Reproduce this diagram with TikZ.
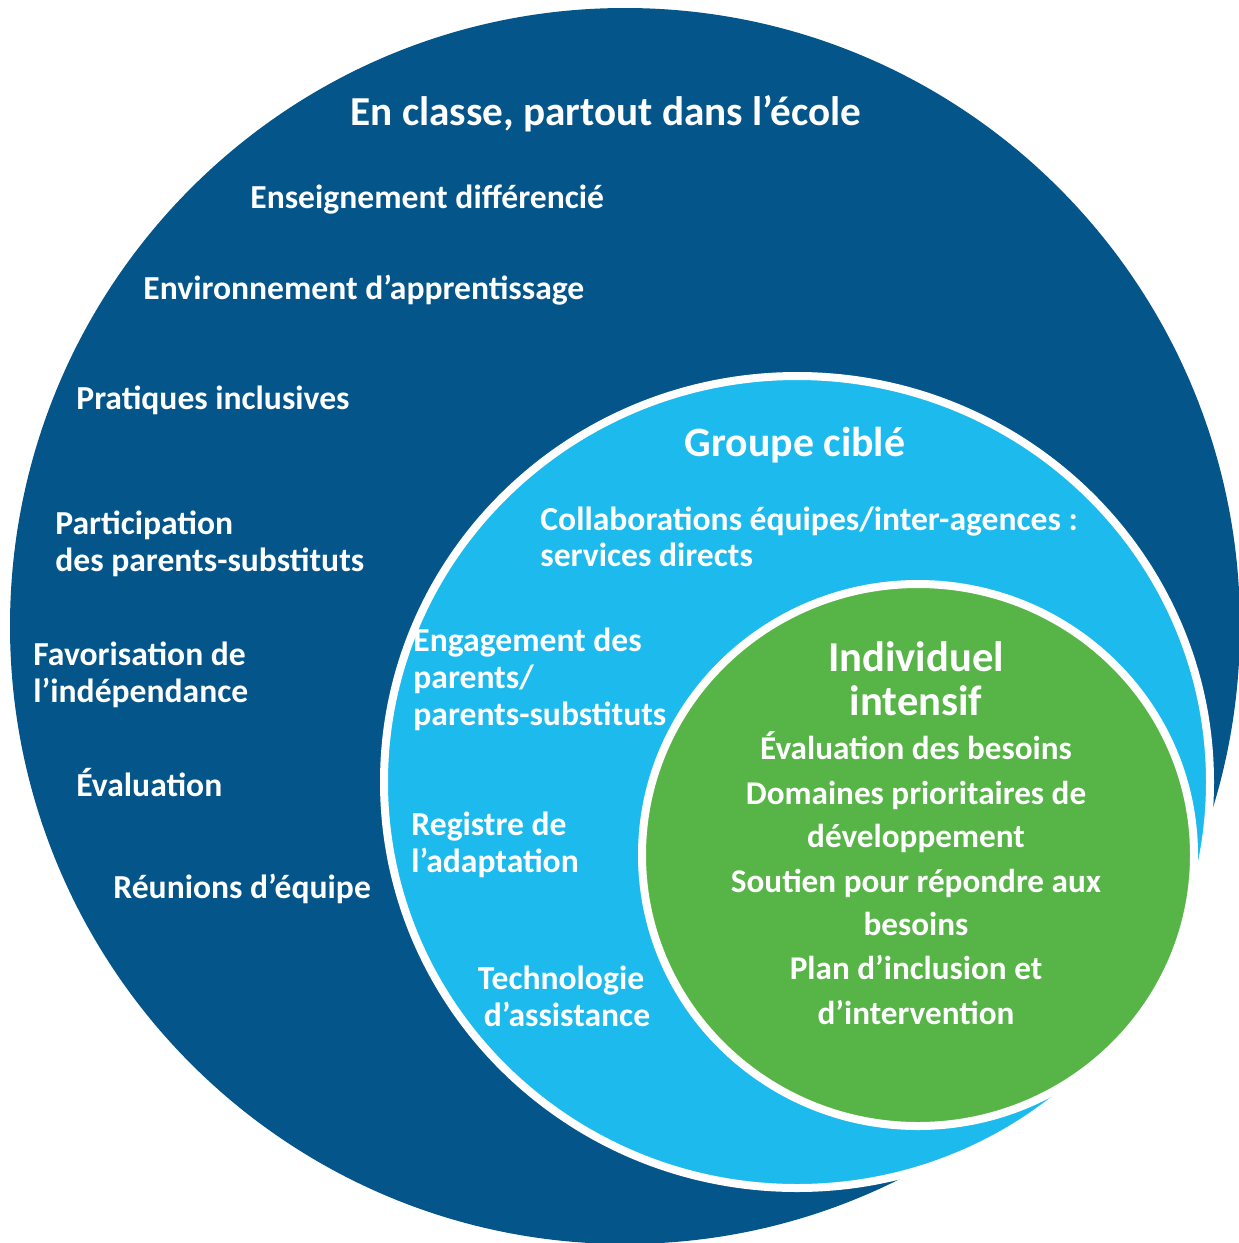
\documentclass[tikz,border=0pt]{standalone}
\usepackage{fontspec}
\usetikzlibrary{shapes.geometric}
\setmainfont{Carlito}
\definecolor{darkblue}{HTML}{03558A}
\definecolor{lightblue}{HTML}{1CBAED}
\definecolor{leafgreen}{HTML}{57B447}
\begin{document}
\begin{tikzpicture}[x=0.5pt,y=-0.5pt,
  ring/.style={ellipse,inner sep=0pt,outer sep=0pt},
  lbl/.style={text=white,inner sep=0pt,font=\bfseries\fontsize{16.8}{20}\selectfont},
  lw/.style={lbl,anchor=base west},
  lc/.style={lbl,anchor=base},
  bigt/.style={font=\bfseries\fontsize{20.6}{24}\selectfont},
  midt/.style={font=\bfseries\fontsize{20.9}{24}\selectfont},
  indt/.style={font=\bfseries\fontsize{21.3}{25}\selectfont},
  grn/.style={font=\bfseries\fontsize{16.6}{20}\selectfont}]
\useasboundingbox (0,0) rectangle (1238,1243);
% circles
\node[ring,fill=darkblue,minimum width=615pt,minimum height=618pt] (outer) at (625,626) {};
\node[ring,fill=lightblue,draw=white,line width=4pt,minimum width=413pt,minimum height=406pt] (target) at (797,782) {};
\node[ring,fill=leafgreen,draw=white,line width=4pt,minimum width=276pt,minimum height=271pt] (indiv) at (918,855) {};
% outer labels
\node[lc,bigt] (t0) at (606,125) {En classe, partout dans l’école};
\node[lw] (o1) at (250,208) {Enseignement différencié};
\node[lw] (o2) at (143,299) {Environnement d’apprentissage};
\node[lw] (o3) at (76,409) {Pratiques inclusives};
\node[lw] (o4a) at (55,534) {Participation};
\node[lw] (o4b) at (55,571) {des parents-substituts};
\node[lw] (o5a) at (33,665) {Favorisation de};
\node[lw] (o5b) at (33,702) {l’indépendance};
\node[lw] (o6) at (76,796) {Évaluation};
\node[lw] (o7) at (113,898) {Réunions d’équipe};
% target group labels
\node[lc,midt] (t1) at (795,456) {Groupe ciblé};
\node[lw] (g1a) at (540,530) {Collaborations équipes/inter-agences :};
\node[lw] (g1b) at (540,566) {services directs};
\node[lw] (g2a) at (413,651) {Engagement des};
\node[lw] (g2b) at (413,688) {parents/};
\node[lw] (g2c) at (413,725) {parents-substituts};
\node[lw] (g3a) at (411,835) {Registre de};
\node[lw] (g3b) at (411,872) {l’adaptation};
\node[lc] (g4a) at (561,989) {Technologie};
\node[lc] (g4b) at (567,1026) {d’assistance};
% individual labels
\node[lc,indt] (t2a) at (916,671) {Individuel};
\node[lc,indt] (t2b) at (916,715) {intensif};
\node[lc,grn] (i1) at (916,759) {Évaluation des besoins};
\node[lc,grn] (i2a) at (916,804) {Domaines prioritaires de};
\node[lc,grn] (i2b) at (916,847) {développement};
\node[lc,grn] (i3a) at (916,892) {Soutien pour répondre aux};
\node[lc,grn] (i3b) at (916,935) {besoins};
\node[lc,grn] (i4a) at (916,979) {Plan d’inclusion et};
\node[lc,grn] (i4b) at (916,1024) {d’intervention};
\end{tikzpicture}
\end{document}
